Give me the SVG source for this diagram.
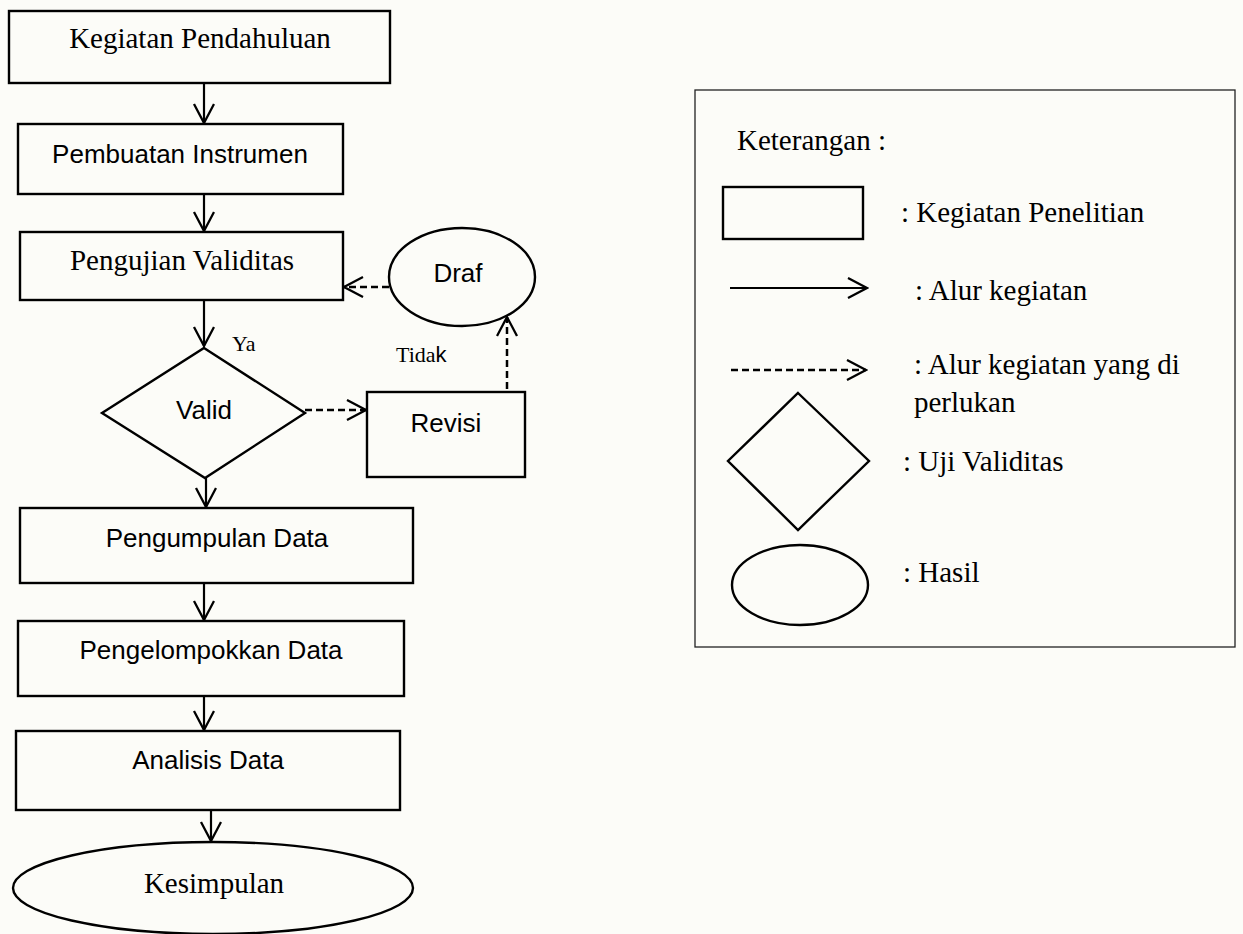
<svg xmlns="http://www.w3.org/2000/svg" width="1243" height="934" viewBox="0 0 1243 934">
<defs>
<style>
.bx{fill:none;stroke:#000;stroke-width:2.4}
.lg{fill:none;stroke:#222;stroke-width:1.3}
.ln{fill:none;stroke:#000;stroke-width:2.2}
.ds{fill:none;stroke:#000;stroke-width:2.5;stroke-dasharray:7 4}
.sf{font-family:"Liberation Serif","Times New Roman",serif;font-size:29px;fill:#000}
.ss{font-family:"Liberation Sans",Arial,sans-serif;font-size:26px;fill:#000}
.sm{font-family:"Liberation Serif","Times New Roman",serif;font-size:22px;fill:#000}
.c{text-anchor:middle}
</style>
<marker id="ah" markerUnits="userSpaceOnUse" markerWidth="22" markerHeight="24" viewBox="0 0 22 24" refX="20" refY="11" orient="auto">
<path d="M1,1 L20,11 L1,21" fill="none" stroke="#000" stroke-width="2.3" stroke-dasharray="none"/>
</marker>
</defs>
<rect width="1243" height="934" fill="#fcfcf8"/>

<g id="n1"><rect class="bx" x="9" y="11" width="381" height="72"/><text class="sf c" x="200" y="48">Kegiatan Pendahuluan</text></g>
<g id="n2"><rect class="bx" x="18" y="124" width="325" height="70"/><text class="ss c" x="180" y="163" font-size="27">Pembuatan Instrumen</text></g>
<g id="n3"><rect class="bx" x="20" y="232" width="323" height="68"/><text class="sf c" x="182" y="270">Pengujian Validitas</text></g>
<g id="n4"><polygon class="bx" points="204,348 305,413 205,478 102,413"/><text class="ss c" x="204" y="419">Valid</text></g>
<g id="n5"><rect class="bx" x="367" y="392" width="158" height="85"/><text class="ss c" x="446" y="432">Revisi</text></g>
<g id="n6"><ellipse class="bx" cx="462" cy="277" rx="73" ry="49"/><text class="ss c" x="458" y="282">Draf</text></g>
<g id="n7"><rect class="bx" x="20" y="508" width="393" height="75"/><text class="ss c" x="217" y="547">Pengumpulan Data</text></g>
<g id="n8"><rect class="bx" x="18" y="621" width="386" height="75"/><text class="ss c" x="211" y="659">Pengelompokkan Data</text></g>
<g id="n9"><rect class="bx" x="16" y="731" width="384" height="79"/><text class="ss c" x="208" y="769">Analisis Data</text></g>
<g id="n10"><ellipse class="bx" cx="213" cy="888" rx="200" ry="46"/><text class="sf c" x="214" y="893">Kesimpulan</text></g>

<g id="connectors">
<line class="ln" x1="204" y1="83" x2="204" y2="123" marker-end="url(#ah)"/>
<line class="ln" x1="204" y1="194" x2="204" y2="231" marker-end="url(#ah)"/>
<line class="ln" x1="204" y1="300" x2="204" y2="346" marker-end="url(#ah)"/>
<line class="ln" x1="206" y1="478" x2="206" y2="507" marker-end="url(#ah)"/>
<line class="ln" x1="204" y1="583" x2="204" y2="620" marker-end="url(#ah)"/>
<line class="ln" x1="204" y1="696" x2="204" y2="730" marker-end="url(#ah)"/>
<line class="ln" x1="211" y1="810" x2="211" y2="841" marker-end="url(#ah)"/>
<line class="ds" x1="305" y1="410" x2="366" y2="410" marker-end="url(#ah)"/>
<line class="ds" x1="507" y1="389" x2="507" y2="317" marker-end="url(#ah)"/>
<line class="ds" x1="389" y1="287" x2="344" y2="287" marker-end="url(#ah)"/>
</g>
<g id="labels">
<text class="sm" x="232" y="351">Ya</text>
<text class="sm" x="396" y="362">Tida<tspan font-family="Liberation Sans, Arial, sans-serif">k</tspan></text>
</g>

<g id="legend">
<rect class="lg" x="695" y="90" width="540" height="557" fill="#fdfdfa"/>
<text class="sf" x="737" y="150">Keterangan :</text>
<rect class="bx" x="723" y="187" width="140" height="52"/>
<text class="sf" x="901" y="222">: Kegiatan Penelitian</text>
<line class="ln" x1="730" y1="288" x2="867" y2="288" marker-end="url(#ah)"/>
<text class="sf" x="915" y="300">: Alur kegiatan</text>
<line class="ds" x1="731" y1="370" x2="866" y2="370" marker-end="url(#ah)"/>
<text class="sf" x="914" y="374">: Alur kegiatan yang di</text>
<text class="sf" x="914" y="412">perlukan</text>
<polygon class="bx" points="798,393 869,461 798,530 728,461"/>
<text class="sf" x="903" y="471">: Uji Validitas</text>
<ellipse class="bx" cx="800" cy="585" rx="68" ry="40"/>
<text class="sf" x="903" y="582">: Hasil</text>
</g>
</svg>
